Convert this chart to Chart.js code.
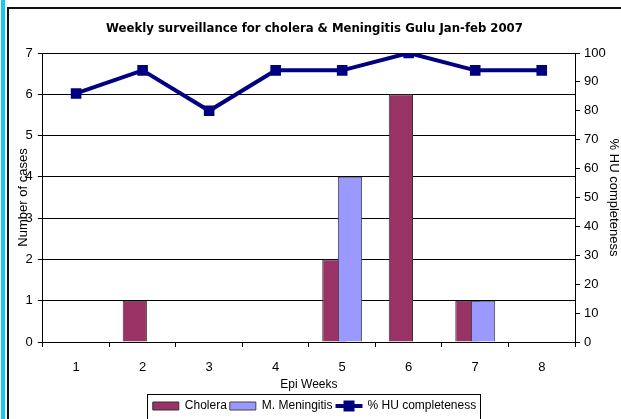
<!DOCTYPE html>
<html>
<head>
<meta charset="utf-8">
<script src="https://cdn.jsdelivr.net/npm/chart.js@4.4.1/dist/chart.umd.min.js"></script>
<style>
  body { margin: 0; background: #fff; }
  #wrap { position: relative; width: 621px; height: 419px; overflow: hidden; }
  .strip { position: absolute; left: 1px; top: 0; width: 4px; height: 419px; background: #1ac6f5; }
  .frame { position: absolute; left: 7px; top: 7px; width: 700px; height: 500px; border-left: 2px solid #111; border-top: 2px solid #111; }
  #chart { position: absolute; left: 0; top: 0; }
</style>
</head>
<body>
<div id="wrap">
  <div class="strip"></div>
  <div class="frame"></div>
  <canvas id="chart" width="621" height="419"></canvas>
</div>
<script>
const weeks = ["1", "2", "3", "4", "5", "6", "7", "8"];
const cholera = [0, 1, 0, 0, 2, 6, 1, 0];
const meningitis = [0, 0, 0, 0, 4, 0, 1, 0];
const completeness = [86, 94, 80, 94, 94, 100, 94, 94];

const textFont = "'Liberation Sans', Arial, sans-serif";

// Excel draws the second bar over the first one, Chart.js does it the other way round
const barOrder = {
    id: "barOrder",
    beforeDatasetDraw(chart, args) {
        if (args.index === 1) return false;
    },
    afterDatasetDraw(chart, args) {
        if (args.index === 0) chart.getDatasetMeta(1).controller.draw();
    }
};

// legend frame and the line marker of the third entry
const legendBits = {
    id: "legendBits",
    afterDraw(chart) {
        const boxes = chart.legend.legendHitBoxes;
        if (!boxes || boxes.length < 3) return;
        const ctx = chart.ctx;
        const first = boxes[0], last = boxes[2];
        ctx.save();
        ctx.strokeStyle = "#000";
        ctx.lineWidth = 1;
        ctx.strokeRect(Math.round(first.left - 6) + 0.5, Math.round(first.top - 6) + 0.5,
            Math.round(last.left + last.width - first.left + 10), 40);
        const cy = last.top + last.height / 2;
        ctx.strokeStyle = "#000080";
        ctx.lineWidth = 4;
        ctx.beginPath();
        ctx.moveTo(last.left, cy);
        ctx.lineTo(last.left + 27, cy);
        ctx.stroke();
        ctx.fillStyle = "#000080";
        ctx.fillRect(last.left + 8, cy - 5.5, 11, 11);
        ctx.restore();
    }
};

new Chart(document.getElementById("chart"), {
    data: {
        labels: weeks,
        datasets: [{
            type: "bar",
            label: "Cholera",
            data: cholera,
            backgroundColor: "#993366",
            borderColor: "#333",
            borderWidth: 1,
            categoryPercentage: 0.47,
            barPercentage: 1.55,
            yAxisID: "y"
        }, {
            type: "bar",
            label: "M. Meningitis",
            data: meningitis,
            backgroundColor: "#9999ff",
            borderColor: "#444",
            borderWidth: 1,
            categoryPercentage: 0.47,
            barPercentage: 1.55,
            yAxisID: "y"
        }, {
            type: "line",
            label: "% HU completeness",
            data: completeness,
            borderColor: "#000080",
            backgroundColor: "#000080",
            borderWidth: 4,
            pointStyle: "rect",
            pointRadius: 7.5,
            pointBorderWidth: 0,
            tension: 0,
            yAxisID: "y1"
        }]
    },
    options: {
        responsive: false,
        animation: false,
        layout: { padding: { top: 10, left: 8, right: 0, bottom: -3 } },
        plugins: {
            tooltip: { enabled: false },
            title: {
                display: true,
                text: "Weekly surveillance for cholera & Meningitis Gulu Jan-feb 2007",
                color: "#000",
                font: { family: "'Liberation Sans Narrow', 'DejaVu Sans Condensed', sans-serif", size: 13, weight: "bold" },
                padding: { top: 11, bottom: 16.4 }
            },
            legend: {
                position: "bottom",
                labels: {
                    color: "#000",
                    font: { family: textFont, size: 12 },
                    boxWidth: 26,
                    boxHeight: 8,
                    padding: 3,
                    generateLabels(chart) {
                        const items = Chart.defaults.plugins.legend.labels.generateLabels(chart);
                        items[2].fillStyle = "rgba(0,0,0,0)";
                        items[2].strokeStyle = "rgba(0,0,0,0)";
                        items[2].lineWidth = 0;
                        return items;
                    }
                }
            }
        },
        scales: {
            x: {
                offset: true,
                grid: { drawOnChartArea: false, drawTicks: true, tickLength: 5, color: "#000", offset: true },
                border: { color: "#000" },
                ticks: { color: "#000", font: { family: textFont, size: 13 }, padding: 13 },
                title: {
                    display: true, text: "Epi Weeks", color: "#000",
                    font: { family: textFont, size: 12 }, padding: { top: -11.3, bottom: 5.3 }
                }
            },
            y: {
                position: "left",
                min: 0, max: 7,
                ticks: { stepSize: 1, color: "#000", font: { family: textFont, size: 13 }, padding: 5 },
                grid: { color: "#000", tickLength: 5 },
                border: { color: "#000" },
                title: {
                    display: true, text: "Number of cases", color: "#000",
                    font: { family: textFont, size: 13 }, padding: { top: 7.2, bottom: -10.2 }
                }
            },
            y1: {
                position: "right",
                min: 0, max: 100,
                ticks: { stepSize: 10, color: "#000", font: { family: textFont, size: 13 }, padding: 4 },
                grid: { drawOnChartArea: false, tickLength: 5, color: "#000" },
                border: { color: "#000" },
                title: {
                    display: true, text: "% HU completeness", color: "#000",
                    font: { family: textFont, size: 13 }, padding: { top: 0, bottom: -4.3 }
                }
            }
        }
    },
    plugins: [barOrder, legendBits]
});
</script>
</body>
</html>
